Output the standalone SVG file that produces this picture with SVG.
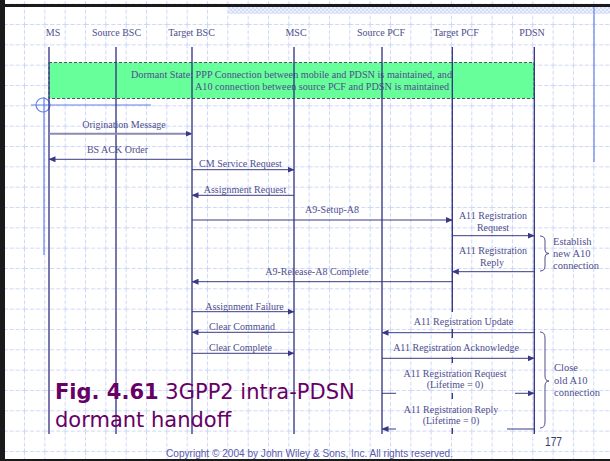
<svg xmlns="http://www.w3.org/2000/svg" width="610" height="461" viewBox="0 0 610 461">
<style>
.t{font-family:"Liberation Serif","Times New Roman",serif;font-size:10px;fill:#4e4e8e}
.m{text-anchor:middle}
.ll{stroke:#2f2f80;stroke-width:1.3;fill:none}
.ar{stroke:#3a3a84;stroke-width:1;fill:none}
.bl{stroke:#6680e6;stroke-width:1.2;fill:none}
.br{stroke:#4e4e8e;stroke-width:1;fill:none}
</style>
<defs>
<pattern id="grid" x="3.7" y="3.7" width="20.33" height="20.33" patternUnits="userSpaceOnUse">
<path d="M0 0.5H20.33M0.5 0V20.33" stroke="#cdd7f7" stroke-width="1" stroke-dasharray="4 2" fill="none"/>
</pattern>
<pattern id="chk" x="0" y="7" width="4" height="4" patternUnits="userSpaceOnUse">
<rect width="4" height="4" fill="#edf0fd"/>
<rect width="2" height="2" fill="#d3dcf8"/>
<rect x="2" y="2" width="2" height="2" fill="#d3dcf8"/>
</pattern>
<marker id="ah" markerWidth="7" markerHeight="6" refX="6.5" refY="3" orient="auto" markerUnits="userSpaceOnUse">
<path d="M0,0 L7,3 L0,6 z" fill="#3a3a84"/>
</marker>
</defs>
<rect width="610" height="461" fill="#ffffff"/>
<rect width="610" height="461" fill="url(#grid)"/>
<rect x="228" y="7" width="382" height="7" fill="url(#chk)"/>
<g id="frame">
<rect x="0" y="0" width="5" height="461" fill="#1a1a1a"/>
<rect x="0" y="4" width="610" height="3" fill="#1a1a1a"/>
<rect x="0" y="459" width="610" height="2" fill="#1a1a1a"/>
</g>
<g id="decor">
<line class="bl" x1="594" y1="7" x2="594" y2="162"/>
<line class="bl" x1="44" y1="97" x2="44" y2="255"/>
<line class="bl" x1="31" y1="105" x2="151" y2="105"/>
<circle class="bl" cx="43" cy="105" r="7"/>
</g>
<g id="dormant">
<rect x="49" y="62.5" width="485" height="36" fill="#66ff99" stroke="#555566" stroke-width="1" stroke-dasharray="3 2"/>
<text class="t" x="131" y="78" textLength="321" lengthAdjust="spacingAndGlyphs">Dormant State: PPP Connection between mobile and PDSN is maintained, and</text>
<text class="t" x="195" y="90" textLength="254" lengthAdjust="spacingAndGlyphs">A10 connection between source PCF and PDSN is maintained</text>
</g>
<g id="MS"><text class="t m" x="53" y="35.5">MS</text><line class="ll" x1="49" y1="47" x2="49" y2="434"/></g>
<g id="SourceBSC"><text class="t m" x="116.5" y="35.5">Source BSC</text><line class="ll" x1="116" y1="47" x2="116" y2="434"/></g>
<g id="TargetBSC"><text class="t m" x="191.5" y="35.5">Target BSC</text><line class="ll" x1="192" y1="47" x2="192" y2="434"/></g>
<g id="MSC"><text class="t m" x="296" y="35.5">MSC</text><line class="ll" x1="294" y1="47" x2="294" y2="434"/></g>
<g id="SourcePCF"><text class="t m" x="381" y="35.5">Source PCF</text><line class="ll" x1="382" y1="47" x2="382" y2="434"/></g>
<g id="TargetPCF"><text class="t m" x="456" y="35.5">Target PCF</text>
<path class="ll" d="M452.3 47V312M452.3 329V338M452.3 357V363M452.3 393V399M452.3 428V434"/></g>
<g id="PDSN"><text class="t m" x="532" y="35.5">PDSN</text><line class="ll" x1="534.3" y1="47" x2="534.3" y2="434"/></g>
<g id="connectors">
<line x1="49" y1="133.7" x2="192" y2="133.7" stroke="#8a8ab8" stroke-width="2" marker-end="url(#ah)"/>
<text class="t m" x="124" y="127.5">Origination Message</text>
<line class="ar" x1="192" y1="159.3" x2="49" y2="159.3" marker-end="url(#ah)"/>
<text class="t m" x="117.5" y="152.5">BS ACK Order</text>
<line class="ar" x1="192" y1="169.7" x2="294" y2="169.7" marker-end="url(#ah)"/>
<text class="t m" x="240.5" y="166.5">CM Service Request</text>
<line class="ar" x1="294" y1="195.3" x2="192" y2="195.3" marker-end="url(#ah)"/>
<text class="t m" x="245" y="192.5">Assignment Request</text>
<line class="ar" x1="192" y1="220" x2="452.3" y2="220" marker-end="url(#ah)"/>
<text class="t m" x="332" y="212.5">A9-Setup-A8</text>
<line class="ar" x1="452.3" y1="235.7" x2="534.3" y2="235.7" marker-end="url(#ah)"/>
<text class="t m" x="493" y="218.5">A11 Registration</text>
<text class="t m" x="493" y="230.5">Request</text>
<line class="ar" x1="534.3" y1="271.7" x2="452.3" y2="271.7" marker-end="url(#ah)"/>
<text class="t m" x="493" y="254">A11 Registration</text>
<text class="t m" x="492" y="266">Reply</text>
<line class="ar" x1="452.3" y1="281.7" x2="192" y2="281.7" marker-end="url(#ah)"/>
<text class="t m" x="317" y="274.5">A9-Release-A8 Complete</text>
<line class="ar" x1="192" y1="311.7" x2="294" y2="311.7" marker-end="url(#ah)"/>
<text class="t m" x="244.5" y="309.5">Assignment  Failure</text>
<line class="ar" x1="294" y1="332.3" x2="192" y2="332.3" marker-end="url(#ah)"/>
<text class="t m" x="242" y="330">Clear Command</text>
<line class="ar" x1="192" y1="353.3" x2="294" y2="353.3" marker-end="url(#ah)"/>
<text class="t m" x="240.5" y="350.5">Clear Complete</text>
<line class="ar" x1="534.3" y1="332.7" x2="382" y2="332.7" marker-end="url(#ah)"/>
<text class="t m" x="463.5" y="325">A11 Registration Update</text>
<line class="ar" x1="382" y1="358.3" x2="534.3" y2="358.3" marker-end="url(#ah)"/>
<text class="t m" x="456" y="350.5">A11 Registration Acknowledge</text>
<line class="ar" x1="382" y1="393.3" x2="396" y2="393.3"/>
<line class="ar" x1="515" y1="393.3" x2="534.3" y2="393.3" marker-end="url(#ah)"/>
<text class="t m" x="455" y="376.5">A11 Registration Request</text>
<text class="t m" x="455" y="388">(Lifetime = 0)</text>
<line class="ar" x1="534.3" y1="429" x2="507" y2="429"/>
<line class="ar" x1="396" y1="429" x2="382" y2="429" marker-end="url(#ah)"/>
<text class="t m" x="451" y="412.5">A11 Registration Reply</text>
<text class="t m" x="451" y="424">(Lifetime = 0)</text>
</g>
<g id="brace1">
<path class="br" d="M540 236Q545 236 545 241V250Q545 253.5 549 253.5Q545 253.5 545 257V266Q545 271 540 271"/>
<text class="t" x="553" y="244.5" style="font-size:10.5px">Establish</text>
<text class="t" x="553" y="257" style="font-size:10.5px">new A10</text>
<text class="t" x="553" y="268.5" style="font-size:10.5px">connection</text>
</g>
<g id="brace2">
<path class="br" d="M540 332Q545 332 545 338V376Q545 381 549 381Q545 381 545 386V422Q545 428 540 428"/>
<text class="t" x="554" y="371" style="font-size:10.5px">Close</text>
<text class="t" x="554" y="383.5" style="font-size:10.5px">old A10</text>
<text class="t" x="554" y="396" style="font-size:10.5px">connection</text>
</g>
<g id="caption" font-family="'DejaVu Sans','Liberation Sans',sans-serif" font-size="21" fill="#660066">
<text x="55" y="399"><tspan font-weight="bold">Fig. 4.61</tspan> 3GPP2 intra-PDSN</text>
<text x="55" y="427">dormant handoff</text>
</g>
<text x="166" y="456.5" font-family="'Liberation Sans',Arial,sans-serif" font-size="10" fill="#5a5aaa" textLength="287" lengthAdjust="spacingAndGlyphs">Copyright © 2004 by John Wiley &amp; Sons, Inc. All rights reserved.</text>
<text x="545" y="446" font-family="'Liberation Sans',Arial,sans-serif" font-size="12" fill="#3a3a70" textLength="17" lengthAdjust="spacingAndGlyphs">177</text>
</svg>
